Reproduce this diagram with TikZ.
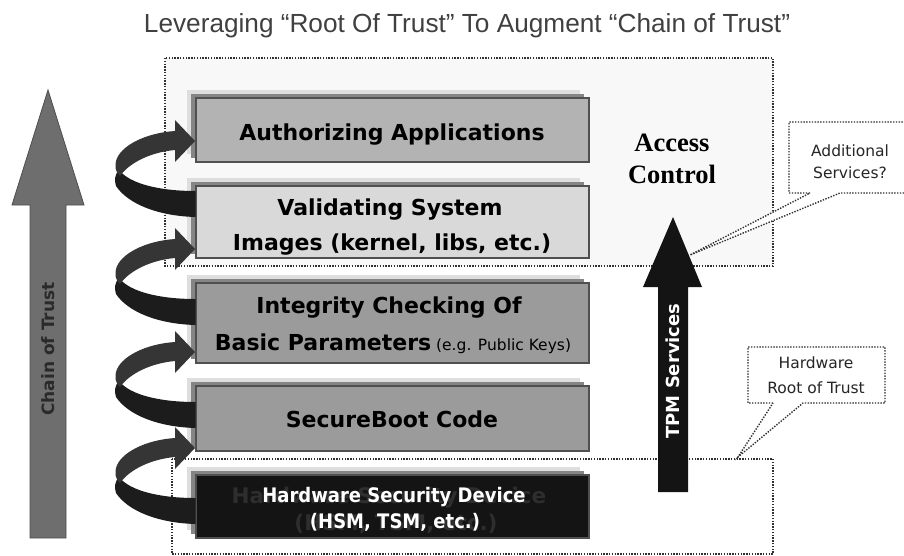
\documentclass[tikz,border=0pt]{standalone}
\usepackage{fontspec}
\setmainfont{DejaVu Sans}
\newfontfamily\titlefont{Liberation Sans}
\newfontfamily\serifface{Liberation Serif}
\newfontfamily\condfont[FakeStretch=0.9]{DejaVu Sans}
\usetikzlibrary{shadows}
\definecolor{cTitle}{HTML}{404040}
\definecolor{cAC}{HTML}{F8F8F8}
\definecolor{cDot}{HTML}{303030}
\definecolor{cEdge}{HTML}{505050}
\definecolor{cHalo}{HTML}{DEDEDE}
\definecolor{cShadow}{HTML}{858585}
\definecolor{cAuth}{HTML}{B3B3B3}
\definecolor{cValid}{HTML}{D9D9D9}
\definecolor{cInteg}{HTML}{9B9B9B}
\definecolor{cBoot}{HTML}{9B9B9B}
\definecolor{cHW}{HTML}{141414}
\definecolor{cGhost}{HTML}{2E2E2E}
\definecolor{cFront}{HTML}{353535}
\definecolor{cBack}{HTML}{1C1C1C}
\definecolor{cChain}{HTML}{6E6E6E}
\definecolor{cChainEdge}{HTML}{4E4E4E}
\definecolor{cChainText}{HTML}{2A2A2A}
\newcommand\helixarrow[1]{%
  \begin{scope}[shift={(0,#1)}]
    \fill[backband] (119,29) .. controls (130,43) and (160,50) .. (195.5,50)
      -- (195.5,76) .. controls (158,75) and (128,63) .. (116,45)
      .. controls (114,39) and (115,33) .. (119,29) -- cycle;
    \fill[frontband] (116,20) .. controls (120,5) and (145,-8) .. (175,-10)
      -- (175,-21) -- (195,0) -- (175,21) -- (175,9)
      .. controls (152,11) and (130,21) .. (120,35)
      .. controls (115,31) and (115,25) .. (116,20) -- cycle;
  \end{scope}}
\begin{document}
\begin{tikzpicture}[x=1pt,y=-1pt,
  dotline/.style={draw=cDot, line width=1.4pt, dash pattern=on 1.4pt off 1.4pt},
  layer/.style={draw=cEdge, line width=1.1pt, minimum width=393pt, inner sep=0pt,
    general shadow={fill=cHalo, shadow xshift=-9pt, shadow yshift=8pt},
    general shadow={fill=cShadow, shadow xshift=-5pt, shadow yshift=4pt}},
  bigtext/.style={anchor=base, inner sep=0pt, font=\bfseries\fontsize{22}{26}\selectfont},
  calltext/.style={anchor=base, inner sep=0pt, font=\fontsize{15.5}{18}\selectfont, text=black!85},
  backband/.style={fill=cBack},
  frontband/.style={fill=cFront}]
\clip (0,0) rectangle (904,555);
\fill[white] (0,0) rectangle (904,555);

% title
\node[anchor=base, inner sep=0pt, text=cTitle, font=\titlefont\fontsize{26.2}{30}\selectfont] (title) at (467,32)
  {Leveraging “Root Of Trust” To Augment “Chain of Trust”};

% region boxes
\path[dotline, fill=cAC] (165,58) rectangle (773,266);
\path[dotline] (172,459) rectangle (773,554);

% chain of trust arrow
\filldraw[fill=cChain, draw=cChainEdge, line width=0.8pt]
  (30,538) -- (30,205) -- (12,205) -- (48,90) -- (84,205) -- (66,205) -- (66,538) -- cycle;
\node[rotate=90, text=cChainText, font=\bfseries\fontsize{17}{20}\selectfont] (chain) at (48,349) {Chain of Trust};

% layer boxes
\node[layer, fill=cAuth,  minimum height=64pt] (auth)  at (392.5,130) {};
\node[layer, fill=cValid, minimum height=72pt] (valid) at (392.5,222) {};
\node[layer, fill=cInteg, minimum height=80pt] (integ) at (392.5,323) {};
\node[layer, fill=cBoot,  minimum height=65pt] (sboot) at (392.5,418.5) {};
\node[layer, fill=cHW,    minimum height=63pt] (hw)    at (392.5,506.5) {};

% spiral arrows
\helixarrow{141}
\helixarrow{249}
\helixarrow{352}
\helixarrow{448}

% box texts
\node[bigtext] (t1) at (392,140) {Authorizing Applications};
\node[bigtext] (t2a) at (390,215) {Validating System};
\node[bigtext] (t2b) at (392,250) {Images (kernel, libs, etc.)};
\node[bigtext] (t3a) at (389,313) {Integrity Checking Of};
\node[bigtext] (t3b) at (393,350) {Basic Parameters\mdseries\fontsize{15.5}{18}\selectfont\ (e.g. Public Keys)};
\node[bigtext] (t4) at (392,427) {SecureBoot Code};
\node[bigtext, text=cGhost, font=\bfseries\fontsize{21.5}{26}\selectfont] (g5a) at (389,503) {Hardware Security Device};
\node[bigtext, text=cGhost, font=\bfseries\fontsize{21.5}{26}\selectfont] (g5b) at (396,530) {(HSM, TSM, etc.)};
\node[bigtext, text=white, font=\condfont\bfseries\fontsize{20}{24}\selectfont] (t5a) at (394,502) {Hardware Security Device};
\node[bigtext, text=white, font=\condfont\bfseries\fontsize{20}{24}\selectfont] (t5b) at (395,528) {(HSM, TSM, etc.)};

% access control
\node[anchor=base, inner sep=0pt, font=\serifface\bfseries\fontsize{26.5}{30}\selectfont] (ac1) at (672,151) {Access};
\node[anchor=base, inner sep=0pt, font=\serifface\bfseries\fontsize{26.5}{30}\selectfont] (ac2) at (672,183) {Control};

% TPM services arrow
\fill[cHW] (658,492) -- (658,287) -- (643,287) -- (673,217) -- (702,287) -- (688,287) -- (688,492) -- cycle;
\node[rotate=90, text=white, font=\bfseries\fontsize{18}{22}\selectfont] (tpm) at (673,371) {TPM Services};

% callouts
\coordinate (addtip) at (690,255);
\coordinate (hwtip) at (738,457);
\path[dotline, fill=white] (810,193) -- (789,193) -- (789,122) -- (912,122) -- (912,193) -- (840,193) -- (addtip) -- cycle;
\node[calltext] (add1) at (850,156) {Additional};
\node[calltext] (add2) at (850,178) {Services?};
\path[dotline, fill=white] (773,403) -- (748,403) -- (748,347) -- (885,347) -- (885,403) -- (803,403) -- (hwtip) -- cycle;
\node[calltext] (hr1) at (816,368) {Hardware};
\node[calltext] (hr2) at (816,393) {Root of Trust};
\end{tikzpicture}
\end{document}
